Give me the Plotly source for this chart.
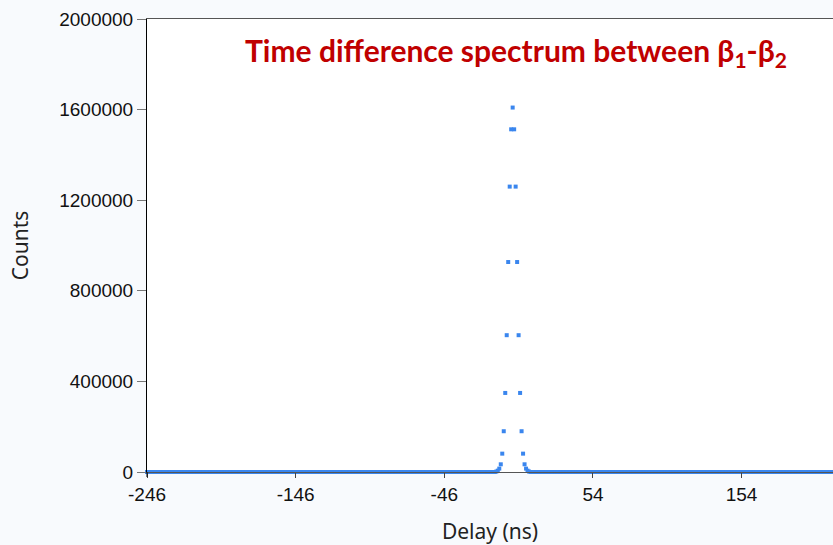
import plotly.graph_objects as go

# Time-difference histogram between the two beta detectors (1 ns bins)
delay_start = -246          # first bin (ns)
delay_stop = 215            # last bin shown (ns)

# Coincidence peak: counts per bin around zero delay
peak_delays = [-11, -10, -9, -8, -7, -6, -5, -4, -3, -2, -1, 0,
               1, 2, 3, 4, 5, 6, 7, 8, 9, 10, 11]
peak_counts = [2000, 6000, 15000, 34000, 81000, 180000, 349000, 604000, 927000, 1260000, 1513000, 1609000,
               1513000, 1260000, 927000, 604000, 349000, 180000, 81000, 34000, 15000, 6000, 2000]

# Flat background outside the peak
background_counts = 0

delays = list(range(delay_start, delay_stop + 1))
peak_lookup = dict(zip(peak_delays, peak_counts))
counts = [peak_lookup.get(d, background_counts) for d in delays]

x_ticks = [-246, -146, -46, 54, 154]
y_ticks = [0, 400000, 800000, 1200000, 1600000, 2000000]

fig = go.Figure()
fig.add_trace(go.Scatter(
    x=delays, y=counts,
    mode="markers",
    marker=dict(symbol="square", size=4, color="#3a86ee", line=dict(width=0)),
    cliponaxis=False,
    showlegend=False,
))

tick_font = dict(family="Liberation Sans, Arial", size=19, color="#111111")
title_font = dict(family="Noto Sans", size=21, color="#222222")

fig.update_layout(
    width=833, height=545,
    margin=dict(l=147, r=0, t=19, b=73),
    paper_bgcolor="#f8fafd",
    plot_bgcolor="#ffffff",
    xaxis=dict(
        range=[delay_start, delay_stop + 0.5],
        tickmode="array", tickvals=x_ticks, ticktext=[str(v) for v in x_ticks],
        showgrid=False, zeroline=False,
        showline=True, linecolor="#555555", linewidth=1, mirror=True,
        ticks="outside", ticklen=5, tickcolor="#444444",
        tickfont=tick_font,
        title=dict(text="Delay (ns)", font=title_font, standoff=20),
    ),
    yaxis=dict(
        range=[0, 2000000],
        tickmode="array", tickvals=y_ticks, ticktext=[str(v) for v in y_ticks],
        showgrid=False, zeroline=False,
        showline=True, linecolor="#000000", linewidth=1,
        ticks="outside", ticklen=9, tickcolor="#777777",
        tickfont=tick_font,
        title=dict(text="Counts", font=title_font, standoff=24),
    ),
    annotations=[dict(
        text="Time difference spectrum between β<sub>1</sub>-β<sub>2</sub>",
        xref="paper", yref="paper", x=0.14, y=0.928,
        xanchor="left", yanchor="middle", showarrow=False,
        font=dict(family="Lato", size=30, color="#c00000", weight="bold"),
    )],
    shapes=[dict(
        type="line", xref="paper", yref="paper",
        x0=0, x1=0, y0=0, y1=-0.011,
        line=dict(color="#000000", width=1),
    )],
)

fig.write_html("out.html")
